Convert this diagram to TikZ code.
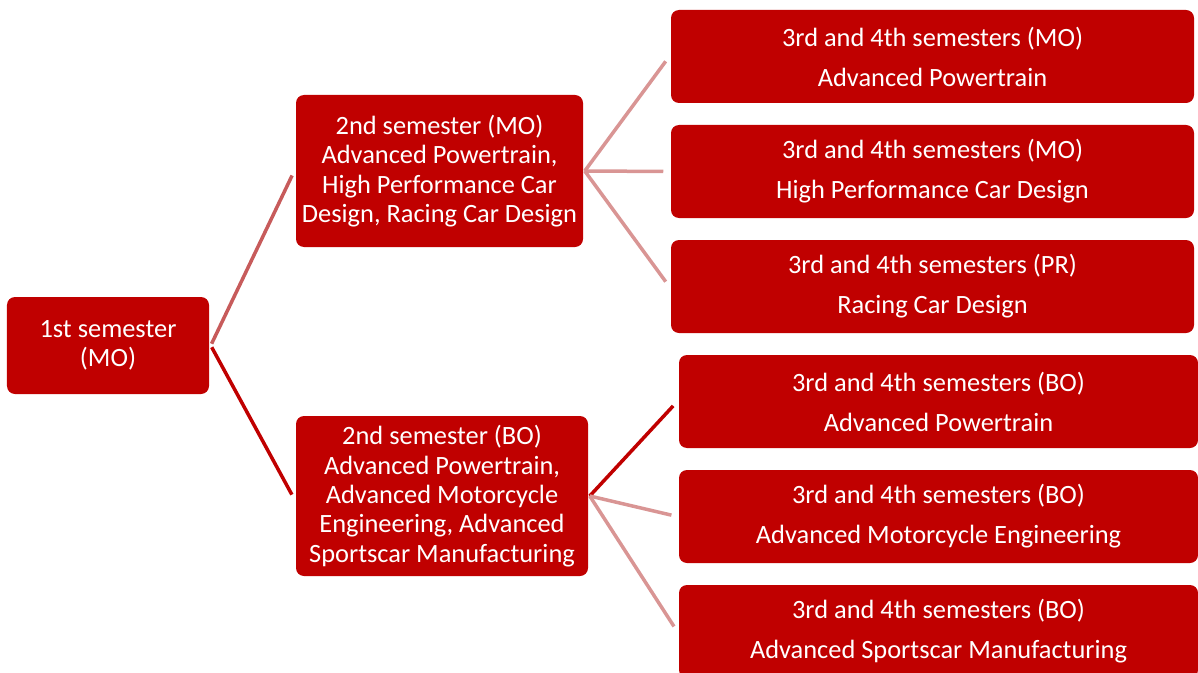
\documentclass[tikz,border=0pt]{standalone}
\usepackage{fontspec}
\setmainfont{Carlito}
\usetikzlibrary{positioning}

\definecolor{boxred}{HTML}{C00000}
\definecolor{midred}{HTML}{C75B5B}
\definecolor{palered}{HTML}{D99594}

\begin{document}
\begin{tikzpicture}[x=1bp,y=-1bp,node distance=115bp,on grid,line width=3.5bp]
            \tikzstyle{sem}=[fill=boxred, text=white, rounded corners=8bp, align=center,
                             inner sep=0pt, font=\fontsize{26.5}{29.5}\selectfont]
            \tikzstyle{wide}=[sem, minimum height=93bp]

            \useasboundingbox (0,0) rectangle (1198,673);

            \node[sem, minimum width=202bp, minimum height=97bp] (first) at (108,345.5)
                {1st semester\\(MO)};
            \node[sem, minimum width=287bp, minimum height=152bp] (mo) at (439.5,171)
                {2nd semester (MO)\\Advanced Powertrain,\\High Performance Car\\Design, Racing Car Design};
            \node[sem, minimum width=292bp, minimum height=160bp] (bo) at (442,496)
                {2nd semester (BO)\\Advanced Powertrain,\\Advanced Motorcycle\\Engineering, Advanced\\Sportscar Manufacturing};

            \node[wide, minimum width=523bp] (mopt)  at (932.5,56.5)  {3rd and 4th semesters (MO)\\[10.5bp]Advanced Powertrain};
            \node[wide, minimum width=523bp] (mohp)  [below of=mopt]  {3rd and 4th semesters (MO)\\[10.5bp]High Performance Car Design};
            \node[wide, minimum width=523bp] (prrc)  [below of=mohp]  {3rd and 4th semesters (PR)\\[10.5bp]Racing Car Design};

            \node[wide, minimum width=519bp] (bopt)  at (938.5,401.5) {3rd and 4th semesters (BO)\\[10.5bp]Advanced Powertrain};
            \node[wide, minimum width=519bp] (bomc)  [below of=bopt]  {3rd and 4th semesters (BO)\\[10.5bp]Advanced Motorcycle Engineering};
            \node[wide, minimum width=519bp] (bosc)  [below of=bomc]  {3rd and 4th semesters (BO)\\[10.5bp]Advanced Sportscar Manufacturing};

            \path[shorten <=2bp, shorten >=5bp]
                    (first.east) edge [midred]  (mo.west)
                    (first.east) edge [boxred]  ([yshift=-3bp]bo.west)
                ;
            \path[shorten >=6bp]
                    (mo.east) edge [palered] (mopt.west)
                    (mo.east) edge [palered] (mohp.west)
                    (mo.east) edge [palered] (prrc.west)

                    (bo.east) edge [boxred]  (bopt.west)
                    (bo.east) edge [palered] (bomc.west)
                    (bo.east) edge [palered] (bosc.west)
                ;
        \end{tikzpicture}
\end{document}
